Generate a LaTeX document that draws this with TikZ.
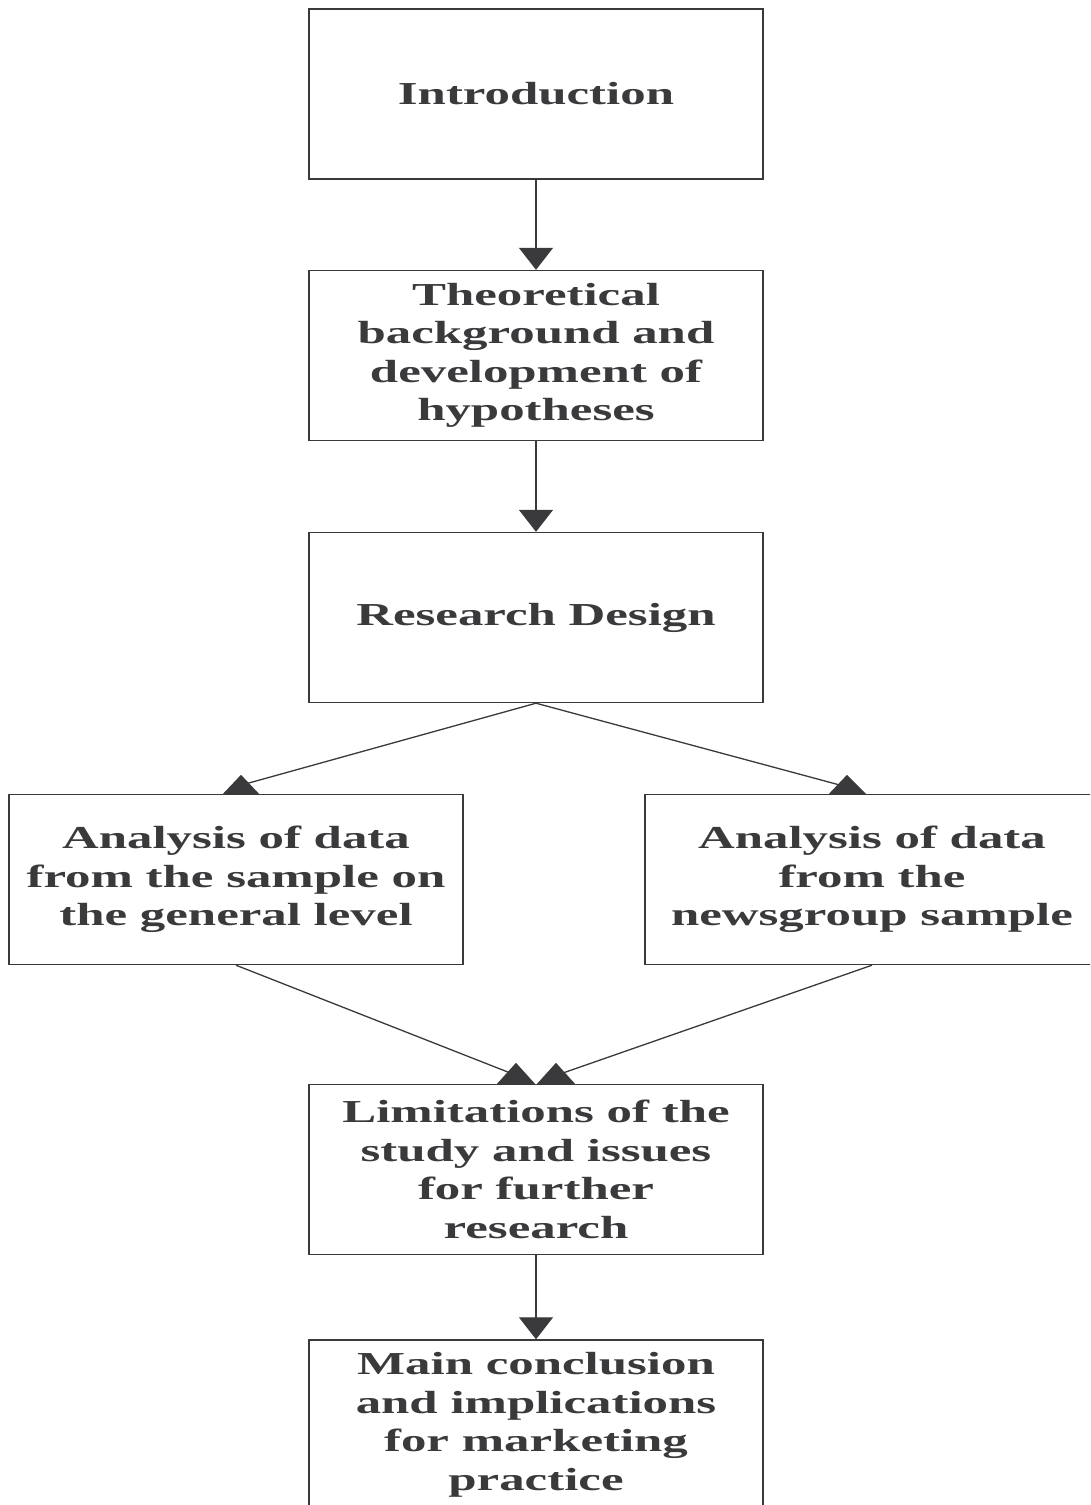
\documentclass[tikz,border=0pt]{standalone}
\usepackage{fontspec}
\usetikzlibrary{arrows.meta,calc}
\newfontfamily\boxfont{Liberation Serif}[FakeStretch=1.59]
\definecolor{ink}{HTML}{3A393C}
\begin{document}
\begin{tikzpicture}[x=1pt,y=-1pt,
  stage/.style={draw=ink,line width=1.4pt,minimum width=454pt,minimum height=170pt,
    inner sep=0pt,align=center,text=ink,
    font=\boxfont\bfseries\fontsize{32}{38.5}\selectfont},
  link/.style={draw=ink,line width=1.3pt},
  flow/.style={link,-{Triangle[width=34pt,length=22pt]}},
  head/.style={fill=ink,draw=none}]
\useasboundingbox (0,0) rectangle (1090,1505);
\clip (0,0) rectangle (1090,1505);
\fill[white] (0,0) rectangle (1090,1505);

\node[stage] (intro) at (536,94) {Introduction};
\node[stage] (theo) at (536,355.5) {Theoretical\\background and\\development of\\hypotheses};
\node[stage] (rd) at (536,617.5) {Research Design};
\node[stage] (ll) at (236,879.5) {Analysis of data\\from the sample on\\the general level};
\node[stage] (rr) at (872,879.5) {Analysis of data\\from the\\newsgroup sample};
\node[stage] (lim) at (536,1169.5) {Limitations of the\\study and issues\\for further\\research};
\node[stage] (main) at (536,1425) {Main conclusion\\and implications\\for marketing\\practice};

% straight flow arrows
\draw[flow] (intro.south) -- (theo.north);
\draw[flow] (theo.south) -- (rd.north);
\draw[flow] (lim.south) -- (main.north);

% branching connectors ending in upright triangles
\coordinate (llend) at ($(ll.north)+(10,-10)$);
\coordinate (rrend) at ($(rr.north)+(-33,-9)$);
\coordinate (limL) at ($(lim.north)+(-16,-7)$);
\coordinate (limR) at ($(lim.north)+(16,-7)$);
\draw[link] (rd.south) -- (llend);
\draw[link] (rd.south) -- (rrend);
\draw[link] (ll.south) -- (limL);
\draw[link] (rr.south) -- (limR);

\fill[head] ($(ll.north)+(-13,0)$) -- ($(ll.north)+(5,-19)$) -- ($(ll.north)+(23,0)$) -- cycle;
\fill[head] ($(rr.north)+(-43,0)$) -- ($(rr.north)+(-25,-19)$) -- ($(rr.north)+(-6,0)$) -- cycle;
\fill[head] ($(lim.north)+(-39,0)$) -- ($(lim.north)+(-20,-21)$) -- ($(lim.north)+(-1,0)$) -- cycle;
\fill[head] ($(lim.north)+(1,0)$) -- ($(lim.north)+(20,-21)$) -- ($(lim.north)+(39,0)$) -- cycle;
\end{tikzpicture}
\end{document}
